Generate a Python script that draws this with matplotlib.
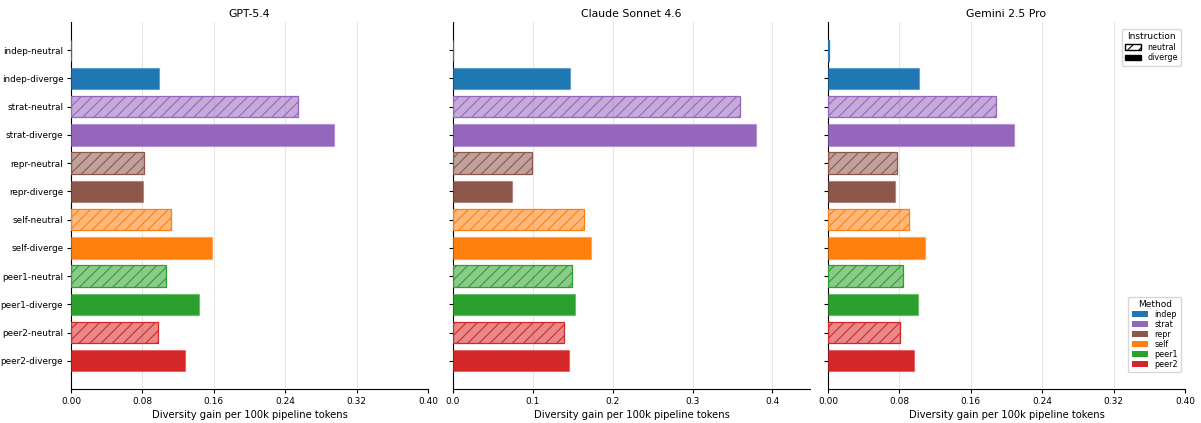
import matplotlib
matplotlib.use("Agg")
import matplotlib.pyplot as plt
from matplotlib.patches import Patch
from matplotlib.colors import to_rgba

models = ["GPT-5.4", "Claude Sonnet 4.6", "Gemini 2.5 Pro"]
methods = ["indep", "strat", "repr", "self", "peer1", "peer2"]
instructions = ["neutral", "diverge"]
method_colors = ["#1f77b4", "#9467bd", "#8c564b", "#ff7f0e", "#2ca02c", "#d62728"]

# values per model, ordered as method x (neutral, diverge)
gpt_vals = [0.0, 0.0986, 0.2544, 0.2947, 0.0818, 0.0805,
            0.1125, 0.1577, 0.1069, 0.1439, 0.0979, 0.1277]
claude_vals = [0.0, 0.147, 0.3596, 0.379, 0.0992, 0.0738,
               0.1646, 0.1725, 0.149, 0.1525, 0.1396, 0.1458]
gemini_vals = [0.001, 0.1016, 0.1879, 0.2081, 0.0769, 0.0754,
               0.0904, 0.1083, 0.084, 0.1012, 0.081, 0.096]
all_vals = [gpt_vals, claude_vals, gemini_vals]

xlims = [0.40, 0.447, 0.40]
xticks = [[0.0, 0.08, 0.16, 0.24, 0.32, 0.40],
          [0.0, 0.1, 0.2, 0.3, 0.4],
          [0.0, 0.08, 0.16, 0.24, 0.32, 0.40]]
xticklabels = [["0.00", "0.08", "0.16", "0.24", "0.32", "0.40"],
               ["0.0", "0.1", "0.2", "0.3", "0.4"],
               ["0.00", "0.08", "0.16", "0.24", "0.32", "0.40"]]

labels = [m + "-" + ins for m in methods for ins in instructions]

plt.rcParams["hatch.linewidth"] = 0.8

W, H = 1201, 423
fig = plt.figure(figsize=(W / 100, H / 100), dpi=100)
# axes boxes in pixels: left, right
boxes = [(71, 428), (453, 810), (828, 1185)]
top, bottom = 22, 389
axes = [fig.add_axes([l / W, 1 - bottom / H, (r - l) / W, (bottom - top) / H])
        for l, r in boxes]

for k, ax in enumerate(axes):
    vals = all_vals[k]
    for i, v in enumerate(vals):
        c = method_colors[i // 2]
        if i % 2 == 0:
            ax.barh(i, v, height=0.76, color=to_rgba(c, 0.55), edgecolor=c,
                    linewidth=0.9, hatch="///", zorder=3)
        else:
            ax.barh(i, v, height=0.76, color=c, edgecolor=to_rgba(c, 0.4),
                    linewidth=0.9, zorder=3)
    ax.set_ylim(12, -1)
    ax.set_yticks(range(len(labels)))
    if k == 0:
        ax.set_yticklabels(labels, fontsize=6.4)
    else:
        ax.set_yticklabels([])
    ax.set_xlim(0, xlims[k])
    ax.set_xticks(xticks[k])
    ax.set_xticklabels(xticklabels[k], fontsize=6.5)
    ax.set_xlabel("Diversity gain per 100k pipeline tokens", fontsize=7.2, labelpad=3)
    ax.set_title(models[k], fontsize=7.8, pad=3.5)
    ax.grid(axis="x", color="#e6e6e6", linewidth=0.8, zorder=0)
    ax.spines["top"].set_visible(False)
    ax.spines["right"].set_visible(False)
    ax.tick_params(length=3, pad=2.5)

ax = axes[2]
inst_handles = [Patch(facecolor="white", edgecolor="black", hatch="///", label="neutral"),
                Patch(facecolor="black", edgecolor="black", label="diverge")]
leg1 = ax.legend(handles=inst_handles, title="Instruction", loc="upper right",
                 bbox_to_anchor=(0.989, 0.981), borderaxespad=0,
                 fontsize=5.8, title_fontsize=6.5, handlelength=2.0, handleheight=0.7,
                 borderpad=0.4, labelspacing=0.2)
ax.add_artist(leg1)
meth_handles = [Patch(facecolor=c, label=m) for m, c in zip(methods, method_colors)]
ax.legend(handles=meth_handles, title="Method", loc="lower right",
          bbox_to_anchor=(0.989, 0.046), borderaxespad=0,
          fontsize=5.8, title_fontsize=6.5, handlelength=2.0, handleheight=0.7,
          borderpad=0.4, labelspacing=0.12)

fig.savefig("out.png", dpi=100)
